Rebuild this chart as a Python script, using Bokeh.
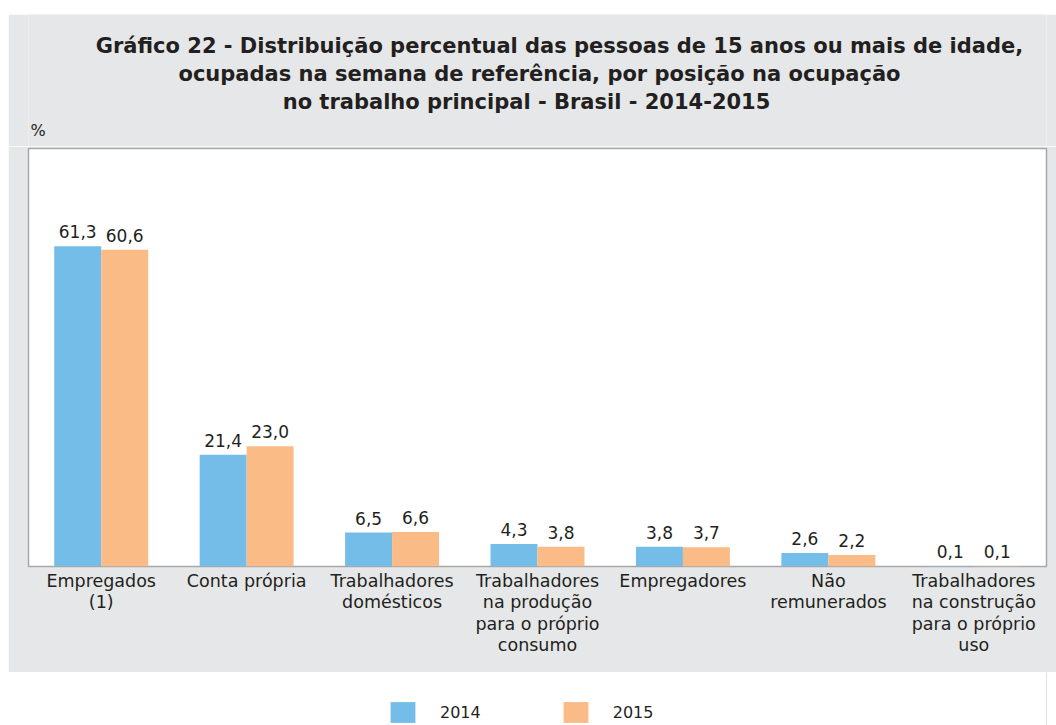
from bokeh.plotting import figure
from bokeh.models import (ColumnDataSource, FactorRange, Range1d, Spacer, Legend, LegendItem)
from bokeh.layouts import column, row
from bokeh.transform import dodge
from bokeh.core.properties import value
from bokeh.embed import file_html
from bokeh.resources import INLINE

# ---- data ----
categories = ["Empregados\n(1)", "Conta própria", "Trabalhadores\ndomésticos",
              "Trabalhadores\nna produção\npara o próprio\nconsumo", "Empregadores",
              "Não\nremunerados", "Trabalhadores\nna construção\npara o próprio\nuso"]
values_2014 = [61.3, 21.4, 6.5, 4.3, 3.8, 2.6, 0.1]
values_2015 = [60.6, 23.0, 6.6, 3.8, 3.7, 2.2, 0.1]
series_names = ["2014", "2015"]
title_lines = ["Gráfico 22 - Distribuição percentual das pessoas de 15 anos ou mais de idade,",
               "ocupadas na semana de referência, por posição na ocupação",
               "no trabalho principal - Brasil - 2014-2015"]
unit_label = "%"

# ---- styles ----
GRAY = "#e6e7e8"
BLUE = "#74bde8"
ORANGE = "#fabb86"
TXT = "#231f20"
FONT = "DejaVu Sans"
W = 1048
BL, BR = 20, 10   # left / right borders shared by all stacked figures

def fmt(v):
    return f"{v:.1f}".replace(".", ",")

src = ColumnDataSource(dict(
    cat=categories,
    v14=values_2014, v15=values_2015,
    l14=[fmt(v) for v in values_2014], l15=[fmt(v) for v in values_2015],
))

# ---- header (pixel coordinates of the figure) ----
header = figure(width=W, height=132, x_range=Range1d(BL, W - BR), y_range=Range1d(132, 0),
                output_backend="svg", toolbar_location=None,
                x_axis_location=None, y_axis_location=None,
                min_border_left=BL, min_border_right=BR,
                min_border_top=0, min_border_bottom=0,
                background_fill_color=GRAY, border_fill_color=GRAY, outline_line_color=None)
header.grid.visible = False
hsrc = ColumnDataSource(dict(x=[551, 531, 518], y=[31, 59, 87], t=title_lines))
header.text(x="x", y="y", text="t", source=hsrc, text_align="center", text_baseline="middle",
            text_font=value("DejaVu Sans"), text_font_style="bold", text_font_size="21px",
            text_color=TXT)
header.text(x=[22], y=[116], text=[unit_label], text_align="left", text_baseline="middle",
            text_font=value(FONT), text_font_size="16px", text_color=TXT)

# ---- main chart ----
p = figure(width=W, height=526, x_range=FactorRange(*categories, range_padding=0),
           y_range=Range1d(0, 80), output_backend="svg", toolbar_location=None,
           y_axis_location=None,
           min_border_left=BL, min_border_right=BR, min_border_top=2, min_border_bottom=106,
           background_fill_color="white", border_fill_color=GRAY,
           outline_line_color="#a8a8a8", outline_line_width=1.5)
p.grid.visible = False

bw = 0.323
p.vbar(x=dodge("cat", -bw / 2, range=p.x_range), top="v14", width=bw, source=src,
       fill_color=BLUE, line_color=None)
p.vbar(x=dodge("cat", bw / 2, range=p.x_range), top="v15", width=bw, source=src,
       fill_color=ORANGE, line_color=None)
p.text(x=dodge("cat", -bw / 2, range=p.x_range), y="v14", text="l14", source=src,
       text_align="center", text_baseline="bottom", y_offset=-8,
       text_font=value(FONT), text_font_size="17px", text_color=TXT)
p.text(x=dodge("cat", bw / 2, range=p.x_range), y="v15", text="l15", source=src,
       text_align="center", text_baseline="bottom", y_offset=-8,
       text_font=value(FONT), text_font_size="17px", text_color=TXT)

xa = p.xaxis[0]
xa.axis_line_color = None
xa.major_tick_line_color = None
xa.minor_tick_line_color = None
xa.major_tick_out = 0
xa.major_label_standoff = 4
xa.major_label_text_font = FONT
xa.major_label_text_font_size = "17.5px"
xa.major_label_text_color = TXT
xa.major_label_text_line_height = 1.08

# ---- legend ----
lf = figure(width=W, height=53, x_range=Range1d(0, 1), y_range=Range1d(0, 1),
            output_backend="svg", toolbar_location=None,
            x_axis_location=None, y_axis_location=None,
            min_border_left=BL, min_border_right=BR,
            min_border_top=0, min_border_bottom=0,
            outline_line_color=None, background_fill_color="white", border_fill_color="white")
lf.grid.visible = False
r1 = lf.vbar(x=[10], top=[1], width=0.1, fill_color=BLUE, line_color=None)
r2 = lf.vbar(x=[10], top=[1], width=0.1, fill_color=ORANGE, line_color=None)
leg = Legend(items=[LegendItem(label=series_names[0], renderers=[r1]),
                    LegendItem(label=series_names[1], renderers=[r2])],
             orientation="horizontal", location=(382 - BL - 3, 0), glyph_width=31, glyph_height=26,
             label_standoff=22, spacing=79, label_width=40, padding=0, margin=0,
             border_line_color=None, background_fill_alpha=0,
             label_text_font=FONT, label_text_font_size="16px", label_text_color=TXT)
lf.add_layout(leg)

layout = row(Spacer(width=8, height=725),
             column(Spacer(width=W, height=14), header, p, lf, spacing=0), spacing=0)
open("out.html", "w").write(file_html(layout, INLINE))
